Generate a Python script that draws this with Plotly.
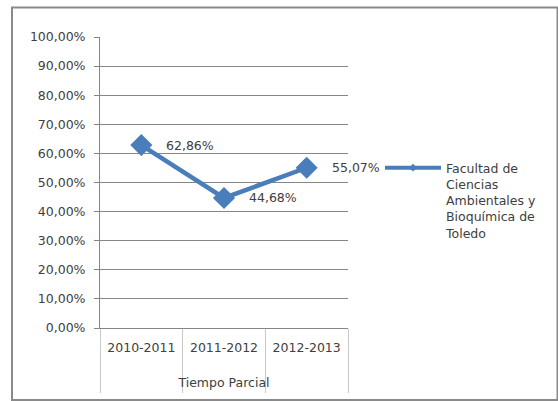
import plotly.graph_objects as go

categories = ["2010-2011", "2011-2012", "2012-2013"]
values = [0.6286, 0.4468, 0.5507]
value_labels = ["62,86%", "44,68%", "55,07%"]
y_ticks = [i / 10 for i in range(11)]
y_tick_labels = ["0,00%", "10,00%", "20,00%", "30,00%", "40,00%", "50,00%",
                 "60,00%", "70,00%", "80,00%", "90,00%", "100,00%"]
series_name = "Facultad de<br>Ciencias<br>Ambientales y<br>Bioquímica de<br>Toledo"
axis_title = "Tiempo Parcial"

W, H = 558, 401
L, R, T, B = 100, 210, 37, 73
pw, ph = W - L - R, H - T - B

FONT = "DejaVu Sans"
TXT = "#404040"
BLUE = "#4A7EBB"

fig = go.Figure()
fig.add_trace(go.Scatter(
    x=categories, y=values, mode="lines+markers",
    name=series_name, showlegend=False,
    line=dict(color=BLUE, width=4.5),
    marker=dict(symbol="diamond", size=17, color=BLUE),
    cliponaxis=False,
))
# legend entry (same series, drawn with the small legend marker)
fig.add_trace(go.Scatter(
    x=[None], y=[None], mode="lines+markers",
    name=series_name, showlegend=True,
    line=dict(color=BLUE, width=4),
    marker=dict(symbol="diamond", size=6, color=BLUE),
))

for c, v, t in zip(categories, values, value_labels):
    fig.add_annotation(x=c, y=v, text=t, showarrow=False,
                       xanchor="left", yanchor="middle", xshift=23, yshift=0,
                       font=dict(family=FONT, size=12.5, color=TXT))

def px_x(x):
    return (x - L) / pw

def px_y(y):
    return (H - B - y) / ph

fig.add_shape(type="rect", xref="paper", yref="paper",
              x0=px_x(12), x1=px_x(557.5), y0=px_y(400), y1=px_y(7.5),
              line=dict(color="#8a8a8a", width=2), layer="below")

fig.update_layout(
    width=W, height=H,
    margin=dict(l=L, r=R, t=T, b=B, pad=0, autoexpand=False),
    paper_bgcolor="white", plot_bgcolor="white",
    font=dict(family=FONT, size=12, color=TXT),
    showlegend=True,
    legend=dict(x=px_x(380), y=px_y(153), xanchor="left", yanchor="top",
                itemwidth=56, valign="top",
                font=dict(family=FONT, size=12.5, color=TXT),
                bgcolor="rgba(0,0,0,0)", tracegroupgap=0),
    xaxis=dict(type="category", range=[-0.5, 2.5], tickson="boundaries",
               ticks="outside", ticklen=64, tickcolor="#c8c8c8", tickwidth=1,
               showgrid=False, showline=True, linecolor="#868686", linewidth=1,
               automargin=False, ticklabelstandoff=8,
               tickfont=dict(family=FONT, size=12.5, color=TXT),
               title=dict(text=axis_title, standoff=24,
                          font=dict(family=FONT, size=12.5, color=TXT)),
               fixedrange=True),
    yaxis=dict(range=[0, 1], tickvals=y_ticks, ticktext=y_tick_labels,
               showgrid=True, gridcolor="#868686", gridwidth=1,
               ticks="outside", ticklen=5, tickcolor="#868686",
               ticklabelstandoff=6, automargin=False,
               showline=True, linecolor="#868686", linewidth=1,
               zeroline=False,
               tickfont=dict(family=FONT, size=12.5, color=TXT),
               fixedrange=True),
)

fig.write_html("out.html", config={"displayModeBar": False},
               post_script="document.body.style.margin='0';document.body.style.overflow='hidden';")
